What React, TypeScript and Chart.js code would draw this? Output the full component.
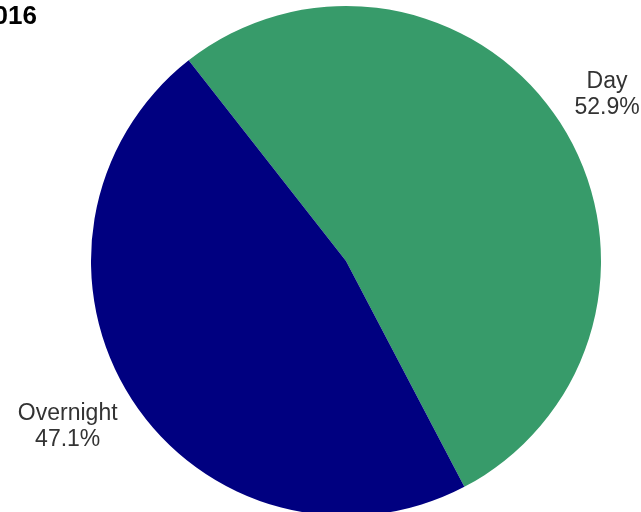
import React, { useEffect, useRef } from "react";
import { Chart, registerables } from "chart.js";

Chart.register(...registerables);

const categories = ["Day", "Overnight"];
const shares = [52.9, 47.1];
const sliceColors = ["#379b6a", "#000080"];
const titleText = "2016";

export default function App() {
  const ref = useRef<HTMLCanvasElement>(null);

  useEffect(() => {
    if (!ref.current) return;
    const labelPlugin = {
      id: "outerLabels",
      afterDraw(chart: any) {
        const ctx = chart.ctx;
        const meta = chart.getDatasetMeta(0);
        ctx.save();
        ctx.font = "23px 'Liberation Sans', Arial, sans-serif";
        ctx.fillStyle = "#333333";
        ctx.textAlign = "center";
        ctx.textBaseline = "middle";
        const lh = 26;
        meta.data.forEach((arc: any, i: number) => {
          const { x, y, startAngle, endAngle, outerRadius } = arc.getProps(
            ["x", "y", "startAngle", "endAngle", "outerRadius"],
            true
          );
          const mid = (startAngle + endAngle) / 2;
          const r = outerRadius + 17;
          const dx = Math.cos(mid);
          const dy = Math.sin(mid);
          const lines = [categories[i], shares[i].toFixed(1) + "%"];
          const w = Math.max(...lines.map((l) => ctx.measureText(l).width));
          const cx = x + dx * r + Math.sign(dx) * (w / 2);
          const cy = y + dy * r + Math.sign(dy) * lh * 0.7;
          ctx.fillText(lines[0], cx, cy - lh / 2);
          ctx.fillText(lines[1], cx, cy + lh / 2);
        });
        ctx.font = "bold 26px 'Liberation Sans', Arial, sans-serif";
        ctx.fillStyle = "#000000";
        ctx.textAlign = "right";
        ctx.textBaseline = "alphabetic";
        ctx.fillText(titleText, 37, 24);
        ctx.restore();
      },
    };

    const chart = new Chart(ref.current, {
      type: "pie",
      data: {
        labels: categories,
        datasets: [
          {
            data: shares,
            backgroundColor: sliceColors,
            borderWidth: 0,
          },
        ],
      },
      options: {
        responsive: false,
        animation: false,
        rotation: -38.1,
        layout: { padding: { left: 51, right: 0, top: 6, bottom: 14 } },
        plugins: {
          legend: { display: false },
          tooltip: { enabled: false },
          title: { display: false },
        },
      },
      plugins: [labelPlugin],
    });
    return () => chart.destroy();
  }, []);

  return (
    <div
      style={{
        position: "fixed",
        left: 0,
        top: 0,
        width: 641,
        height: 512,
        overflow: "hidden",
        background: "#ffffff",
      }}
    >
      <canvas ref={ref} width={641} height={530} style={{ display: "block" }} />
    </div>
  );
}
